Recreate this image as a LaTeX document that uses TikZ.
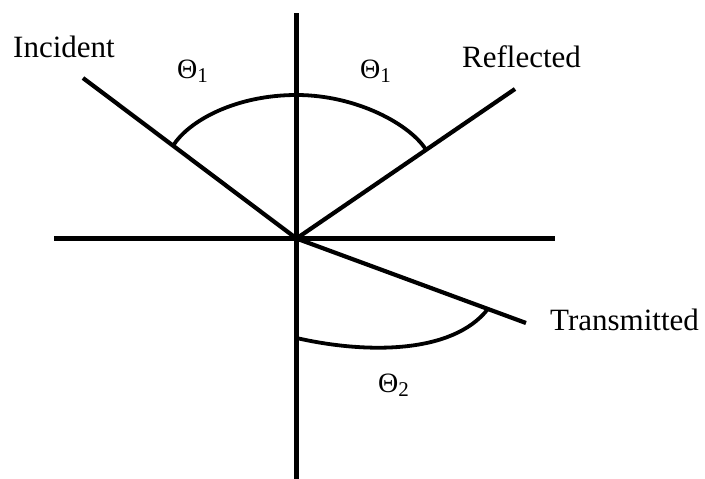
\documentclass[tikz,border=0pt]{standalone}
\usepackage{fontspec}
\setmainfont{Liberation Serif}
\usetikzlibrary{calc}
\newcommand{\thetasub}[1]{Θ\raisebox{-4pt}{\fontsize{21}{24}\selectfont #1}}
\begin{document}
\begin{tikzpicture}[x=1pt,y=-1pt,
  ray/.style={line width=4.2pt},
  arcline/.style={line width=3.8pt},
  lbl/.style={inner sep=0pt, anchor=base west, font=\fontsize{31}{36}\selectfont},
  ang/.style={inner sep=0pt, anchor=base west, font=\fontsize{28}{32}\selectfont}]
\useasboundingbox (0,0) rectangle (705,479);
% axes
\coordinate (O) at (296.5,238.5);
\coordinate (vtop) at (296.5,13);
\coordinate (vbot) at (296.5,479);
\coordinate (hl) at (54,238.5);
\coordinate (hr) at (555,238.5);
% rays
\coordinate (inc) at (83,78);
\coordinate (refl) at (515,89);
\coordinate (trans) at (526,323);
\draw[ray] (vtop) -- (vbot);
\draw[ray] (hl) -- (hr);
\draw[ray] (inc) -- (O);
\draw[ray] (O) -- (refl);
\draw[ray] (O) -- (trans);
% upper angle arc
\coordinate (a1) at ($(O)!0.578!(inc)$);
\coordinate (apex) at (296.5,95);
\coordinate (a2) at ($(O)!0.593!(refl)$);
\draw[arcline] (a1) .. controls +(16,-25.5) and +(-60,0) .. (apex)
                    .. controls +(60,0) and +(-16,-25.5) .. (a2);
% lower angle arc
\coordinate (b1) at (296.5,338);
\coordinate (b2) at ($(O)!0.834!(trans)$);
\draw[arcline] (b1) .. controls +(70,16) and +(-35,45) .. (b2);
% labels
\node[lbl] (lincident) at (13,57) {Incident};
\node[lbl] (lreflected) at (462,67) {Reflected};
\node[lbl] (ltransmitted) at (550,330) {Transmitted};
\node[ang] (th1l) at (177,78) {\thetasub{1}};
\node[ang] (th1r) at (360,78) {\thetasub{1}};
\node[ang] (th2) at (378,392) {\thetasub{2}};
\end{tikzpicture}
\end{document}
